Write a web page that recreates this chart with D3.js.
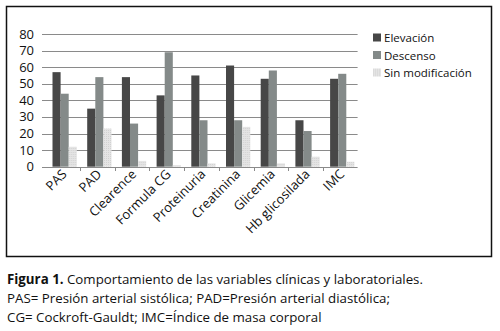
<!DOCTYPE html>
<html>
<head>
    <title>Comportamiento de variables</title>
    <script src="https://d3js.org/d3.v7.min.js"></script>
    <style>
        body { margin: 0; background: #fff; }
        text { font-family: 'Open Sans', sans-serif; fill: #111; }
    </style>
</head>
<body>
    <svg id="chart" width="500" height="331"></svg>

    <script>
        var categories = ["PAS", "PAD", "Clearence", "Formula CG", "Proteinuria", "Creatinina", "Glicemia", "Hb glicosilada", "IMC"];
        var seriesNames = ["Elevación", "Descenso", "Sin modificación"];
        var elevacion = [57, 35, 54, 43, 55, 61, 53, 28, 53];
        var descenso = [44, 54, 26, 69, 28, 28, 58, 21.5, 56];
        var sinModificacion = [12, 23, 3.5, 1, 2, 24, 2, 6, 3];
        var yTicks = [0, 10, 20, 30, 40, 50, 60, 70, 80];
        var colors = ["#474747", "#848a89", "#dedede"];

        var seriesValues = [elevacion, descenso, sinModificacion];

        var svg = d3.select("#chart");

        // pattern for the light bars
        var defs = svg.append("defs");
        var pat = defs.append("pattern").attr("id", "dots")
            .attr("width", 2).attr("height", 2).attr("patternUnits", "userSpaceOnUse");
        pat.append("rect").attr("width", 2).attr("height", 2).attr("fill", "#e4e4e4");
        pat.append("rect").attr("width", 1).attr("height", 1).attr("fill", "#d2d2d2");

        // frame
        svg.append("rect")
            .attr("x", 6.5).attr("y", 6.5).attr("width", 485).attr("height", 250)
            .attr("fill", "none").attr("stroke", "#111").attr("stroke-width", 1.5);

        var x0 = d3.scaleBand().domain(categories).range([45.3, 357.6]);
        var x1 = d3.scaleBand().domain(seriesNames).range([7.2, 31.5]);
        var y = d3.scaleLinear().domain([0, 80]).range([166.7, 34]);

        // grid
        svg.append("g").selectAll("line")
            .data(yTicks)
            .enter().append("line")
            .attr("x1", 42).attr("x2", 357.6)
            .attr("y1", function(d) { return Math.round(y(d)) + 0.5; })
            .attr("y2", function(d) { return Math.round(y(d)) + 0.5; })
            .attr("stroke", "#8a8a8a").attr("stroke-width", 1);

        // y labels
        svg.append("g").selectAll("text")
            .data(yTicks)
            .enter().append("text")
            .attr("x", 34)
            .attr("y", function(d) { return y(d) + 4.5; })
            .attr("text-anchor", "end")
            .style("font-size", "13px")
            .text(function(d) { return d; });

        // bars
        var groups = svg.append("g").selectAll("g")
            .data(categories)
            .enter().append("g")
            .attr("transform", function(d) { return "translate(" + x0(d) + ",0)"; });

        groups.selectAll("rect")
            .data(function(d, i) {
                return seriesNames.map(function(s, j) {
                    return { series: s, value: seriesValues[j][i], idx: j };
                });
            })
            .enter().append("rect")
            .attr("x", function(d) { return x1(d.series); })
            .attr("width", x1.bandwidth())
            .attr("y", function(d) { return y(d.value); })
            .attr("height", function(d) { return y(0) - y(d.value); })
            .attr("fill", function(d) { return d.idx == 2 ? "url(#dots)" : colors[d.idx]; });

        // category tick marks
        svg.append("g").selectAll("line")
            .data(categories.slice(1))
            .enter().append("line")
            .attr("x1", function(d) { return Math.round(x0(d)) + 0.5; })
            .attr("x2", function(d) { return Math.round(x0(d)) + 0.5; })
            .attr("y1", 167).attr("y2", 171)
            .attr("stroke", "#8a8a8a");

        // x labels
        svg.append("g").selectAll("text")
            .data(categories)
            .enter().append("text")
            .attr("transform", function(d) {
                return "translate(" + (x0(d) + x0.bandwidth() / 2 + 5) + ",175) rotate(-45)";
            })
            .attr("text-anchor", "end")
            .style("font-size", "13px")
            .text(function(d) { return d; });

        // legend
        var legend = svg.append("g").selectAll("g")
            .data(seriesNames)
            .enter().append("g")
            .attr("transform", function(d, i) { return "translate(373," + (37.5 + i * 17.5) + ")"; });

        legend.append("rect")
            .attr("x", 0).attr("y", -4).attr("width", 8).attr("height", 8)
            .attr("fill", function(d, i) { return i == 2 ? "url(#dots)" : colors[i]; });

        legend.append("text")
            .attr("x", 11).attr("y", 4.5)
            .style("font-size", "11.5px")
            .text(function(d) { return d; });

        // caption
        var cap = svg.append("g").style("font-size", "13.3px");
        var line1 = cap.append("text").attr("x", 7).attr("y", 284);
        line1.append("tspan").style("font-weight", "bold").text("Figura 1.");
        line1.append("tspan").text(" Comportamiento de las variables clínicas y laboratoriales.");
        cap.append("text").attr("x", 7).attr("y", 303)
            .text("PAS= Presión arterial sistólica; PAD=Presión arterial diastólica;");
        cap.append("text").attr("x", 7).attr("y", 322)
            .text("CG= Cockroft-Gauldt; IMC=Índice de masa corporal");
    </script>
</body>
</html>
